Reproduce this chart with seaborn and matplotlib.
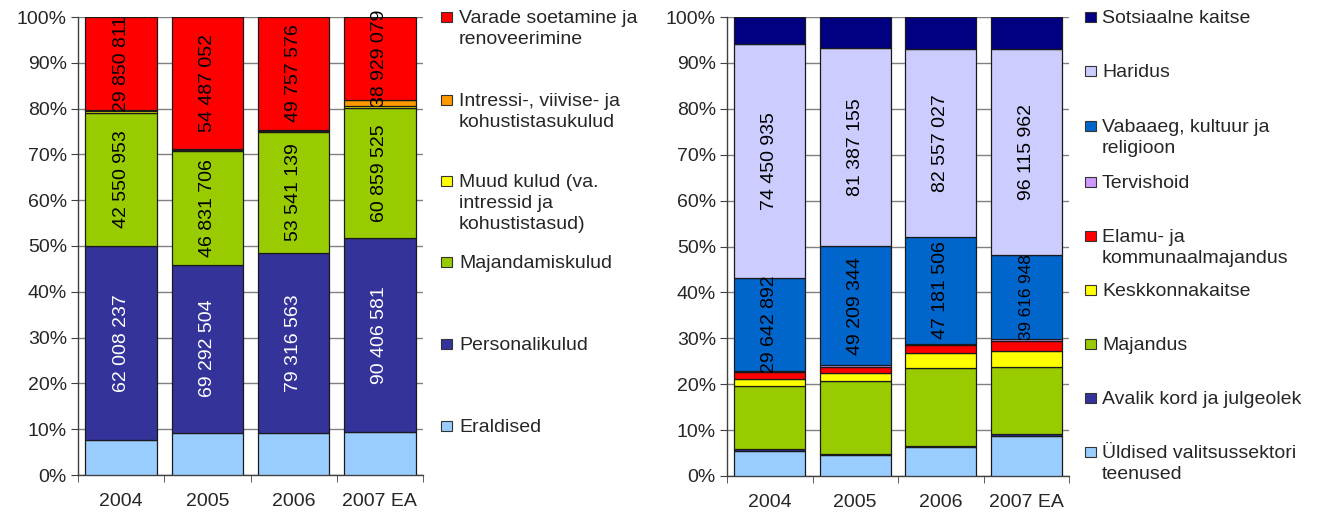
import numpy as np
import pandas as pd
import matplotlib
matplotlib.use("Agg")
import matplotlib.pyplot as plt
from matplotlib.patches import Rectangle
from matplotlib.ticker import PercentFormatter, FixedLocator
import seaborn as sns

years = ["2004", "2005", "2006", "2007 EA"]

# left chart: expenditure by type (EEK), bottom -> top
left_series = ["Eraldised", "Personalikulud", "Majandamiskulud",
               "Muud kulud (va.\nintressid ja\nkohustistasud)",
               "Intressi-, viivise- ja\nkohustistasukulud",
               "Varade soetamine ja\nrenoveerimine"]
eraldised = [11200000, 17400000, 18300000, 19900000]
personalikulud = [62008237, 69292504, 79316563, 90406581]
majandamiskulud = [42550953, 46831706, 53541139, 60859525]
muud_kulud = [400000, 500000, 400000, 900000]
intressikulud = [300000, 200000, 300000, 2600000]
varade_soetamine = [29850811, 54487052, 49757576, 38929079]
left_values = [eraldised, personalikulud, majandamiskulud,
               muud_kulud, intressikulud, varade_soetamine]
left_colors = ["#99CCFF", "#333399", "#99CC00", "#FFFF00", "#FF9900", "#FF0000"]
left_labelled = {1: "white", 2: "black", 5: "black"}

# right chart: expenditure by function (EEK), bottom -> top
right_series = ["Üldised valitsussektori\nteenused", "Avalik kord ja julgeolek",
                "Majandus", "Keskkonnakaitse", "Elamu- ja\nkommunaalmajandus",
                "Tervishoid", "Vabaaeg, kultuur ja\nreligioon", "Haridus",
                "Sotsiaalne kaitse"]
yldised = [8000000, 8500000, 12700000, 18800000]
avalik_kord = [600000, 600000, 600000, 900000]
majandus = [19900000, 30000000, 34200000, 31200000]
keskkond = [2200000, 3200000, 6600000, 7500000]
elamu = [2300000, 2600000, 3400000, 4500000]
tervishoid = [400000, 600000, 600000, 900000]
vabaaeg = [29642892, 49209344, 47181506, 39616948]
haridus = [74450935, 81387155, 82557027, 96115962]
sotsiaalne = [8500000, 12800000, 14100000, 15000000]
right_values = [yldised, avalik_kord, majandus, keskkond, elamu,
                tervishoid, vabaaeg, haridus, sotsiaalne]
right_colors = ["#99CCFF", "#333399", "#99CC00", "#FFFF00", "#FF0000",
                "#CC99FF", "#0066CC", "#CCCCFF", "#000080"]
right_labelled = {6: "black", 7: "black"}

sns.set_style("white")
plt.rcParams["font.family"] = ["Liberation Sans", "DejaVu Sans"]

FS = 14
fig = plt.figure(figsize=(13.17, 5.18), dpi=100)
W, H = 1317, 518


def fmt(v):
    return f"{v:,}".replace(",", " ")


def stacked(ax, values, colors, labelled, small=()):
    data = np.array(values, dtype=float)
    pct = data / data.sum(axis=0) * 100
    bottom = np.zeros(len(years))
    for i, color in enumerate(colors):
        df = pd.DataFrame({"year": years, "pct": pct[i]})
        sns.barplot(data=df, x="year", y="pct", bottom=bottom, color=color,
                    saturation=1, width=0.83, edgecolor="#1a1a1a",
                    linewidth=0.9, ax=ax, zorder=3)
        if i in labelled:
            for j in range(len(years)):
                ax.text(j, bottom[j] + pct[i][j] / 2, fmt(values[i][j]),
                        rotation=90, ha="center", va="center",
                        fontsize=12.3 if (i, j) in small else FS,
                        color=labelled[i], zorder=5)
        bottom = bottom + pct[i]
    ax.set_ylim(0, 100)
    ax.set_xlim(-0.5, len(years) - 0.5)
    ax.set_yticks(np.arange(0, 101, 10))
    ax.yaxis.set_major_formatter(PercentFormatter(decimals=0))
    ax.yaxis.grid(True, color="#808080", linewidth=1, zorder=0)
    ax.set_axisbelow(True)
    ax.set_xlabel("")
    ax.set_ylabel("")
    ax.xaxis.set_minor_locator(FixedLocator(np.arange(-0.5, len(years), 1)))
    ax.tick_params(axis="x", which="major", length=0, pad=13, labelsize=FS)
    ax.tick_params(axis="x", which="minor", length=5, color="#404040",
                   direction="out", bottom=True)
    ax.tick_params(axis="y", length=5, color="#404040", direction="out",
                   left=True, labelsize=FS, pad=3)
    for side in ["top", "right"]:
        ax.spines[side].set_visible(False)
    for side in ["left", "bottom"]:
        ax.spines[side].set_color("#404040")
        ax.spines[side].set_linewidth(1)


def legend(series, colors, x_box, x_text, y_tops):
    for name, color, y in zip(series, colors, y_tops):
        fig.patches.append(Rectangle((x_box / W, 1 - (y + 5) / H), 11 / W, 10 / H,
                                     transform=fig.transFigure,
                                     facecolor=color, edgecolor="#333333",
                                     linewidth=0.8))
        fig.text(x_text / W, 1 - (y - 7) / H, name, ha="left", va="top",
                 fontsize=FS, linespacing=1.3)


ax1 = fig.add_axes([78 / W, 1 - 475 / H, 345 / W, 458 / H])
stacked(ax1, left_values, left_colors, left_labelled)

ax2 = fig.add_axes([727 / W, 1 - 476 / H, 342 / W, 459 / H])
stacked(ax2, right_values, right_colors, right_labelled, small={(6, 3)})

# legends read top -> bottom
legend(left_series[::-1], left_colors[::-1], 441, 459,
       [17, 100, 181, 262, 344, 426])
legend(right_series[::-1], right_colors[::-1], 1085, 1102,
       [17, 71, 126, 182, 236, 290, 344, 398, 452])

plt.savefig("out.png", dpi=100)
plt.close(fig)
